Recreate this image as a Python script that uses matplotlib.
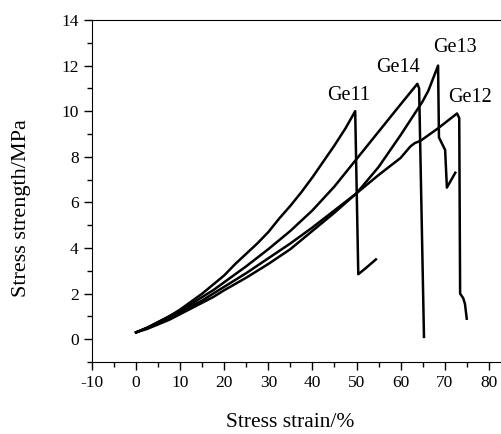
import matplotlib.pyplot as plt
from matplotlib.ticker import MultipleLocator

plt.rcParams['font.family'] = ['Liberation Serif', 'DejaVu Serif']
plt.rcParams['axes.unicode_minus'] = False

# curves (strain %, stress MPa)
ge11_x = [0, 2.5, 5, 7.5, 10, 12.5, 15, 17.5, 20, 22.5, 25, 27.5, 30, 32.5, 35, 37.5, 40, 42.5, 45, 47.5, 49.7,
          50.4, 52, 54.4]
ge11_y = [0.3, 0.5, 0.75, 1.0, 1.3, 1.65, 2.0, 2.4, 2.8, 3.3, 3.75, 4.2, 4.7, 5.3, 5.85, 6.45, 7.1, 7.8, 8.5, 9.25, 10.0,
          2.85, 3.1, 3.5]

ge14_x = [0, 2.5, 5, 7.5, 10, 12.5, 15, 17.5, 20, 25, 30, 35, 40, 45, 50, 55, 60, 63.8, 64.2, 65.3]
ge14_y = [0.3, 0.5, 0.75, 1.0, 1.25, 1.55, 1.85, 2.15, 2.5, 3.2, 3.95, 4.75, 5.65, 6.7, 7.9, 9.1, 10.3, 11.2, 11.0, 0.1]

ge13_x = [0, 2.5, 5, 7.5, 10, 12.5, 15, 17.5, 20, 25, 30, 35, 40, 45, 50, 55, 60, 64.9, 66.3, 68.5,
          68.7, 70.1, 70.5, 72.4]
ge13_y = [0.3, 0.45, 0.65, 0.85, 1.1, 1.35, 1.6, 1.85, 2.15, 2.7, 3.3, 3.95, 4.75, 5.55, 6.4, 7.55, 8.95, 10.4, 10.9, 12.0,
          8.85, 8.3, 6.65, 7.3]

ge12_x = [0, 2.5, 5, 7.5, 10, 12.5, 15, 17.5, 20, 25, 30, 35, 40, 45, 50, 55, 60, 62.2, 63.2, 64.5, 68.5, 72.8,
          73.3, 73.5, 74.2, 74.6, 75.0]
ge12_y = [0.3, 0.5, 0.7, 0.95, 1.2, 1.45, 1.7, 2.0, 2.3, 2.9, 3.55, 4.2, 4.9, 5.65, 6.4, 7.2, 7.95, 8.45, 8.6, 8.7, 9.25, 9.9,
          9.7, 2.0, 1.8, 1.55, 0.9]

labels = ['Ge11', 'Ge14', 'Ge13', 'Ge12']
label_x = [48.1, 59.4, 72.4, 75.8]
label_y = [10.7, 11.9, 12.8, 10.6]

fig = plt.figure(figsize=(5.02, 4.34), dpi=100)
ax = fig.add_axes([92 / 502, 1 - 362 / 434, 1 - 92 / 502, 342 / 434])

for xs, ys in [(ge11_x, ge11_y), (ge14_x, ge14_y), (ge13_x, ge13_y), (ge12_x, ge12_y)]:
    ax.plot(xs, ys, color='black', lw=1.8)

for name, lx, ly in zip(labels, label_x, label_y):
    ax.text(lx, ly, name, fontsize=14.5, ha='center', va='center')

ax.set_xlim(-10, 83)
ax.set_ylim(-1, 14)
ax.xaxis.set_major_locator(MultipleLocator(10))
ax.xaxis.set_minor_locator(MultipleLocator(5))
ax.yaxis.set_major_locator(MultipleLocator(2))
ax.yaxis.set_minor_locator(MultipleLocator(1))
ax.tick_params(which='major', length=6, width=1, labelsize=12.5, direction='out')
ax.tick_params(which='minor', length=3.5, width=1, direction='out')
ax.spines['right'].set_visible(False)

ax.set_xlabel('Stress strain/%', fontsize=15.5)
ax.set_ylabel('Stress strength/MPa', fontsize=16)
ax.xaxis.set_label_coords(0.483, -0.148)
ax.yaxis.set_label_coords(-0.148, 0.45)

fig.savefig('out.png', dpi=100)
